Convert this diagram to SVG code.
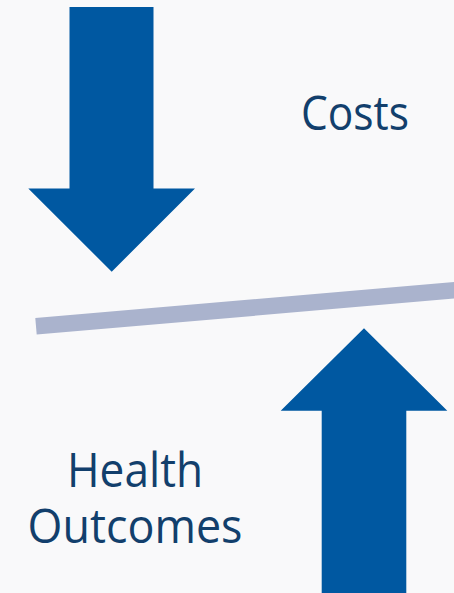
<svg xmlns="http://www.w3.org/2000/svg" width="454" height="593" viewBox="0 0 454 593">
<style>
.arrow{fill:#0058a1}
.lbl{font-family:"Open Sans","Liberation Sans",sans-serif;font-size:47px;fill:#123f6c;text-anchor:middle}
</style>
<rect width="454" height="593" fill="#f9f9fa"/>
<g id="down-arrow"><polygon class="arrow" points="69.5,7 153.5,7 153.5,188.5 195,188.5 111.7,271.7 28.3,188.5 69.5,188.5"/></g>
<g id="up-arrow"><polygon class="arrow" points="321.7,593 406.3,593 406.3,410.7 447.3,410.7 364,328.3 280.7,410.7 321.7,410.7"/></g>
<g id="connectors"><line x1="36" y1="326.3" x2="460" y2="289.8" stroke="#aab3cd" stroke-width="16.5"/></g>
<g id="costs"><text class="lbl" x="355" y="130" textLength="108" lengthAdjust="spacingAndGlyphs">Costs</text></g>
<g id="health"><text class="lbl" x="135" y="487" textLength="136" lengthAdjust="spacingAndGlyphs">Health</text>
<text class="lbl" x="135" y="543" textLength="215" lengthAdjust="spacingAndGlyphs">Outcomes</text></g>
</svg>
